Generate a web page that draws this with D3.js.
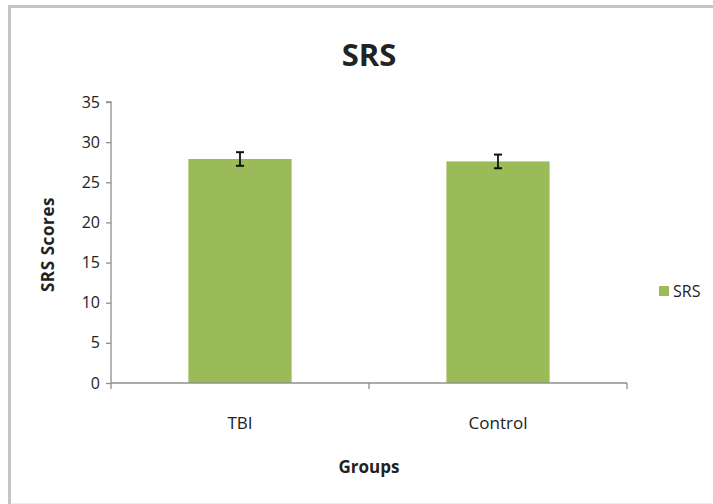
<!DOCTYPE html>
<html>
<head>
<meta charset="utf-8">
<script src="https://cdn.jsdelivr.net/npm/d3@7"></script>
<style>
  html, body { margin: 0; padding: 0; background: #fff; overflow: hidden; }
  svg { display: block; }
  text { font-family: "Open Sans", "Liberation Sans", sans-serif; fill: #222; }
</style>
</head>
<body>
<svg id="chart" width="713" height="504"></svg>
<script>
const categories = ["TBI", "Control"];
const values = [27.9, 27.6];
const errors = [0.85, 0.85];
const yTicks = [0, 5, 10, 15, 20, 25, 30, 35];
const seriesName = "SRS";
const title = "SRS";
const xTitle = "Groups";
const yTitle = "SRS Scores";

const svg = d3.select("#chart");
const W = 713, H = 504;
const m = { left: 111, right: 627, top: 102, bottom: 383 };
const green = "#9BBB59";
const axisColor = "#8f8f8f";

// frame (left and top visible, bottom faint, right cut off)
svg.append("line").attr("x1", 9.5).attr("x2", 9.5).attr("y1", 5).attr("y2", H)
  .attr("stroke", "#c4c4c4").attr("stroke-width", 3);
svg.append("line").attr("x1", 8).attr("x2", W).attr("y1", 6.5).attr("y2", 6.5)
  .attr("stroke", "#c4c4c4").attr("stroke-width", 3);
svg.append("line").attr("x1", 11).attr("x2", W).attr("y1", 503.5).attr("y2", 503.5)
  .attr("stroke", "#ececec").attr("stroke-width", 1);

const x = d3.scaleBand().domain(categories).range([m.left, m.right]).paddingInner(0.6).paddingOuter(0.3);
const y = d3.scaleLinear().domain([0, 35]).range([m.bottom, m.top]);

// bars
svg.selectAll("rect.bar").data(categories).enter().append("rect")
  .attr("class", "bar")
  .attr("x", d => x(d))
  .attr("width", x.bandwidth())
  .attr("y", (d, i) => y(values[i]))
  .attr("height", (d, i) => y(0) - y(values[i]))
  .attr("fill", green);

// y axis
const yAxis = d3.axisLeft(y).tickValues(yTicks).tickSize(5).tickPadding(6).tickFormat(d3.format("d"));
const gy = svg.append("g").attr("transform", `translate(${m.left},0)`).call(yAxis);
gy.select(".domain").attr("stroke", axisColor).attr("stroke-width", 1.3).attr("d", `M-5,${y(35)}H0V${y(0)}`);
gy.selectAll(".tick line").attr("stroke", axisColor).attr("stroke-width", 1.3);
gy.selectAll(".tick text").style("font-size", "16px").attr("fill", "#222")
  .style("font-family", "'Open Sans', sans-serif");

// x axis
const gx = svg.append("g").attr("transform", `translate(0,${m.bottom})`);
gx.append("line").attr("x1", m.left).attr("x2", m.right).attr("y1", 0).attr("y2", 0)
  .attr("stroke", axisColor).attr("stroke-width", 1.6);
const step = x.step();
const boundaries = [x(categories[0]) - step * 0.3, ...categories.map(c => x(c) + x.bandwidth() + step * 0.3)];
gx.selectAll("line.bt").data(boundaries).enter().append("line").attr("class", "bt")
  .attr("x1", d => d).attr("x2", d => d).attr("y1", 0).attr("y2", 6)
  .attr("stroke", axisColor).attr("stroke-width", 1.3);
gx.selectAll("text.cat").data(categories).enter().append("text").attr("class", "cat")
  .attr("x", d => x(d) + x.bandwidth() / 2).attr("y", 46)
  .attr("text-anchor", "middle").style("font-size", "17px").text(d => d);

// error bars
const eb = svg.selectAll("g.err").data(categories).enter().append("g").attr("class", "err");
eb.append("line")
  .attr("x1", d => x(d) + x.bandwidth() / 2).attr("x2", d => x(d) + x.bandwidth() / 2)
  .attr("y1", (d, i) => y(values[i] + errors[i])).attr("y2", (d, i) => y(values[i] - errors[i]))
  .attr("stroke", "#111").attr("stroke-width", 1.8);
[1, -1].forEach(s => {
  eb.append("line")
    .attr("x1", d => x(d) + x.bandwidth() / 2 - 4).attr("x2", d => x(d) + x.bandwidth() / 2 + 4)
    .attr("y1", (d, i) => y(values[i] + s * errors[i])).attr("y2", (d, i) => y(values[i] + s * errors[i]))
    .attr("stroke", "#111").attr("stroke-width", 2);
});

// title
svg.append("text").attr("x", (m.left + m.right) / 2).attr("y", 66).attr("text-anchor", "middle")
  .style("font-size", "31px").style("font-weight", "bold").attr("fill", "#111").text(title);

// axis titles
svg.append("text").attr("x", (m.left + m.right) / 2).attr("y", 473).attr("text-anchor", "middle")
  .style("font-size", "17px").style("font-weight", "bold").text(xTitle);
svg.append("text").attr("transform", `translate(54,${(m.top + m.bottom) / 2 + 2}) rotate(-90)`)
  .attr("text-anchor", "middle").style("font-size", "17px").style("font-weight", "bold")
  .style("letter-spacing", "0.6px").text(yTitle);

// legend
const lg = svg.append("g").attr("transform", "translate(659,286)");
lg.append("rect").attr("width", 10).attr("height", 10).attr("fill", green);
lg.append("text").attr("x", 14).attr("y", 11).style("font-size", "16px").text(seriesName);
</script>
</body>
</html>
